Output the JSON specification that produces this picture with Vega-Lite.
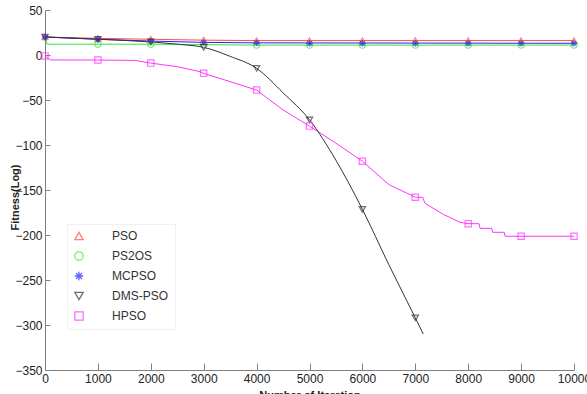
{
  "$schema": "https://vega.github.io/schema/vega-lite/v6.json",
  "autosize": "none",
  "width": 529,
  "height": 360,
  "padding": {"left": 45, "top": 10, "right": 13, "bottom": 24},
  "background": "white",
  "config": {"view": {"stroke": null}, "font": "Liberation Sans"},
  "datasets": {
    "lines": [
      {"alg": "PSO", "iter": 0, "fit": 20},
      {"alg": "PSO", "iter": 1000, "fit": 18.5},
      {"alg": "PSO", "iter": 2000, "fit": 17.5},
      {"alg": "PSO", "iter": 3000, "fit": 16.5},
      {"alg": "PSO", "iter": 4000, "fit": 16},
      {"alg": "PSO", "iter": 10000, "fit": 16},
      {"alg": "PS2OS", "iter": 0, "fit": 20},
      {"alg": "PS2OS", "iter": 40, "fit": 12},
      {"alg": "PS2OS", "iter": 2000, "fit": 12},
      {"alg": "PS2OS", "iter": 4000, "fit": 11},
      {"alg": "PS2OS", "iter": 10000, "fit": 11},
      {"alg": "MCPSO", "iter": 0, "fit": 20},
      {"alg": "MCPSO", "iter": 1000, "fit": 17.5},
      {"alg": "MCPSO", "iter": 2000, "fit": 15.5},
      {"alg": "MCPSO", "iter": 3000, "fit": 14},
      {"alg": "MCPSO", "iter": 4000, "fit": 13.5},
      {"alg": "MCPSO", "iter": 10000, "fit": 13},
      {"alg": "DMS-PSO", "iter": 0, "fit": 20},
      {"alg": "DMS-PSO", "iter": 1000, "fit": 17.5},
      {"alg": "DMS-PSO", "iter": 2000, "fit": 14.5},
      {"alg": "DMS-PSO", "iter": 2500, "fit": 12},
      {"alg": "DMS-PSO", "iter": 3000, "fit": 8.5},
      {"alg": "DMS-PSO", "iter": 3500, "fit": -1.5},
      {"alg": "DMS-PSO", "iter": 4000, "fit": -14.8},
      {"alg": "DMS-PSO", "iter": 4500, "fit": -42},
      {"alg": "DMS-PSO", "iter": 5000, "fit": -72},
      {"alg": "DMS-PSO", "iter": 5500, "fit": -117},
      {"alg": "DMS-PSO", "iter": 6000, "fit": -171.5},
      {"alg": "DMS-PSO", "iter": 6500, "fit": -233},
      {"alg": "DMS-PSO", "iter": 7000, "fit": -292},
      {"alg": "DMS-PSO", "iter": 7150, "fit": -310},
      {"alg": "HPSO", "iter": 0, "fit": -1},
      {"alg": "HPSO", "iter": 100, "fit": -5.5},
      {"alg": "HPSO", "iter": 1000, "fit": -5.6},
      {"alg": "HPSO", "iter": 1700, "fit": -6},
      {"alg": "HPSO", "iter": 2000, "fit": -9},
      {"alg": "HPSO", "iter": 2500, "fit": -13},
      {"alg": "HPSO", "iter": 2930, "fit": -18.5},
      {"alg": "HPSO", "iter": 3000, "fit": -20.4},
      {"alg": "HPSO", "iter": 3500, "fit": -29.6},
      {"alg": "HPSO", "iter": 4000, "fit": -39},
      {"alg": "HPSO", "iter": 4500, "fit": -61},
      {"alg": "HPSO", "iter": 5000, "fit": -79},
      {"alg": "HPSO", "iter": 5500, "fit": -98},
      {"alg": "HPSO", "iter": 6000, "fit": -118},
      {"alg": "HPSO", "iter": 6500, "fit": -144},
      {"alg": "HPSO", "iter": 7000, "fit": -158},
      {"alg": "HPSO", "iter": 7140, "fit": -158.1},
      {"alg": "HPSO", "iter": 7183, "fit": -164.8},
      {"alg": "HPSO", "iter": 7529, "fit": -177},
      {"alg": "HPSO", "iter": 7845, "fit": -185.9},
      {"alg": "HPSO", "iter": 8002, "fit": -187.4},
      {"alg": "HPSO", "iter": 8204, "fit": -187.4},
      {"alg": "HPSO", "iter": 8223, "fit": -192.6},
      {"alg": "HPSO", "iter": 8444, "fit": -192.6},
      {"alg": "HPSO", "iter": 8463, "fit": -197},
      {"alg": "HPSO", "iter": 8682, "fit": -197},
      {"alg": "HPSO", "iter": 8696, "fit": -201.4},
      {"alg": "HPSO", "iter": 10000, "fit": -201.4}
    ],
    "markers": [
      {"alg": "PSO", "iter": 0, "fit": 20},
      {"alg": "PSO", "iter": 1000, "fit": 18.5},
      {"alg": "PSO", "iter": 2000, "fit": 17.5},
      {"alg": "PSO", "iter": 3000, "fit": 16.5},
      {"alg": "PSO", "iter": 4000, "fit": 16},
      {"alg": "PSO", "iter": 5000, "fit": 16},
      {"alg": "PSO", "iter": 6000, "fit": 16},
      {"alg": "PSO", "iter": 7000, "fit": 16},
      {"alg": "PSO", "iter": 8000, "fit": 16},
      {"alg": "PSO", "iter": 9000, "fit": 16},
      {"alg": "PSO", "iter": 10000, "fit": 16},
      {"alg": "PS2OS", "iter": 1000, "fit": 12},
      {"alg": "PS2OS", "iter": 2000, "fit": 12},
      {"alg": "PS2OS", "iter": 3000, "fit": 11.5},
      {"alg": "PS2OS", "iter": 4000, "fit": 11},
      {"alg": "PS2OS", "iter": 5000, "fit": 11},
      {"alg": "PS2OS", "iter": 6000, "fit": 11},
      {"alg": "PS2OS", "iter": 7000, "fit": 11},
      {"alg": "PS2OS", "iter": 8000, "fit": 11},
      {"alg": "PS2OS", "iter": 9000, "fit": 11},
      {"alg": "PS2OS", "iter": 10000, "fit": 11},
      {"alg": "MCPSO", "iter": 0, "fit": 20},
      {"alg": "MCPSO", "iter": 1000, "fit": 17.5},
      {"alg": "MCPSO", "iter": 2000, "fit": 15.5},
      {"alg": "MCPSO", "iter": 3000, "fit": 14},
      {"alg": "MCPSO", "iter": 4000, "fit": 13.5},
      {"alg": "MCPSO", "iter": 5000, "fit": 13},
      {"alg": "MCPSO", "iter": 6000, "fit": 13},
      {"alg": "MCPSO", "iter": 7000, "fit": 13},
      {"alg": "MCPSO", "iter": 8000, "fit": 13},
      {"alg": "MCPSO", "iter": 9000, "fit": 13},
      {"alg": "MCPSO", "iter": 10000, "fit": 13},
      {"alg": "DMS-PSO", "iter": 0, "fit": 20},
      {"alg": "DMS-PSO", "iter": 1000, "fit": 17.5},
      {"alg": "DMS-PSO", "iter": 2000, "fit": 14.5},
      {"alg": "DMS-PSO", "iter": 3000, "fit": 8.5},
      {"alg": "DMS-PSO", "iter": 4000, "fit": -14.8},
      {"alg": "DMS-PSO", "iter": 5000, "fit": -72},
      {"alg": "DMS-PSO", "iter": 6000, "fit": -171.5},
      {"alg": "DMS-PSO", "iter": 7000, "fit": -292},
      {"alg": "HPSO", "iter": 0, "fit": -1},
      {"alg": "HPSO", "iter": 1000, "fit": -5.6},
      {"alg": "HPSO", "iter": 2000, "fit": -9},
      {"alg": "HPSO", "iter": 3000, "fit": -20.4},
      {"alg": "HPSO", "iter": 4000, "fit": -39},
      {"alg": "HPSO", "iter": 5000, "fit": -79},
      {"alg": "HPSO", "iter": 6000, "fit": -118},
      {"alg": "HPSO", "iter": 7000, "fit": -158},
      {"alg": "HPSO", "iter": 8000, "fit": -187.4},
      {"alg": "HPSO", "iter": 9000, "fit": -201.4},
      {"alg": "HPSO", "iter": 10000, "fit": -201.4}
    ]
  },
  "encoding": {
    "x": {
      "field": "iter", "type": "quantitative",
      "scale": {"domain": [0, 10000], "nice": false, "zero": false},
      "axis": {
        "title": "Number of Iteration",
        "values": [0, 1000, 2000, 3000, 4000, 5000, 6000, 7000, 8000, 9000, 10000],
        "format": "d", "grid": false,
        "domainColor": "#808080", "tickColor": "#808080", "tickSize": -7,
        "labelPadding": 10, "labelFontSize": 12, "labelColor": "#222", "labelFont": "Liberation Sans",
        "labelFlush": false,
        "titleFontSize": 11, "titleFontWeight": "bold", "titleColor": "#222",
        "titleBaseline": "top", "titleY": 19
      }
    },
    "y": {
      "field": "fit", "type": "quantitative",
      "scale": {"domain": [-350, 50], "nice": false, "zero": false},
      "axis": {
        "title": "Fitness(Log)",
        "values": [-350, -300, -250, -200, -150, -100, -50, 0, 50],
        "grid": false,
        "domainColor": "#808080", "tickColor": "#808080", "tickSize": -5,
        "labelPadding": 8, "labelFontSize": 12, "labelColor": "#222", "labelFont": "Liberation Sans",
        "labelFlush": false,
        "titleFontSize": 11, "titleFontWeight": "bold", "titleColor": "#222",
        "titleX": -30, "titleY": 187, "titleAngle": -90, "titleBaseline": "middle", "titleAlign": "center"
      }
    },
    "color": {
      "field": "alg", "type": "nominal",
      "scale": {
        "domain": ["PSO", "PS2OS", "MCPSO", "DMS-PSO", "HPSO"],
        "range": ["#ff4a4a", "#33e633", "#2222ff", "#333333", "#ff33ff"]
      },
      "legend": {
        "title": null, "orient": "none", "legendX": 22, "legendY": 214,
        "symbolSize": 70, "symbolStrokeWidth": 1.3, "symbolFillColor": "transparent",
        "rowPadding": 6, "labelFontSize": 12, "labelColor": "#333", "labelFont": "Liberation Sans",
        "labelOffset": 27,
        "padding": 6, "strokeColor": "#f0f0f0", "fillColor": "#ffffff"
      }
    }
  },
  "layer": [
    {
      "data": {"name": "lines"},
      "transform": [{"filter": "datum.alg !== 'DMS-PSO'"}],
      "mark": {"type": "line", "strokeWidth": 1, "clip": true},
      "encoding": {"detail": {"field": "alg"}}
    },
    {
      "data": {"name": "lines"},
      "transform": [{"filter": "datum.alg === 'DMS-PSO'"}],
      "mark": {"type": "line", "strokeWidth": 1, "interpolate": "monotone", "clip": true},
      "encoding": {"detail": {"field": "alg"}}
    },
    {
      "data": {"name": "markers"},
      "mark": {"type": "point", "filled": false, "size": 40, "strokeWidth": 1.2, "clip": false},
      "encoding": {
        "shape": {
          "field": "alg", "type": "nominal",
          "scale": {
            "domain": ["PSO", "PS2OS", "MCPSO", "DMS-PSO", "HPSO"],
            "range": ["triangle-up", "circle", "M-1,0L1,0M0,-1L0,1M-0.7,-0.7L0.7,0.7M-0.7,0.7L0.7,-0.7", "triangle-down", "square"]
          },
          "legend": {
            "title": null, "orient": "none", "legendX": 22, "legendY": 214,
            "symbolSize": 70, "symbolStrokeWidth": 1.3, "symbolFillColor": "transparent",
            "rowPadding": 6, "labelFontSize": 12, "labelColor": "#333", "labelFont": "Liberation Sans",
            "labelOffset": 27,
            "padding": 6, "strokeColor": "#f0f0f0", "fillColor": "#ffffff"
          }
        }
      }
    }
  ]
}
